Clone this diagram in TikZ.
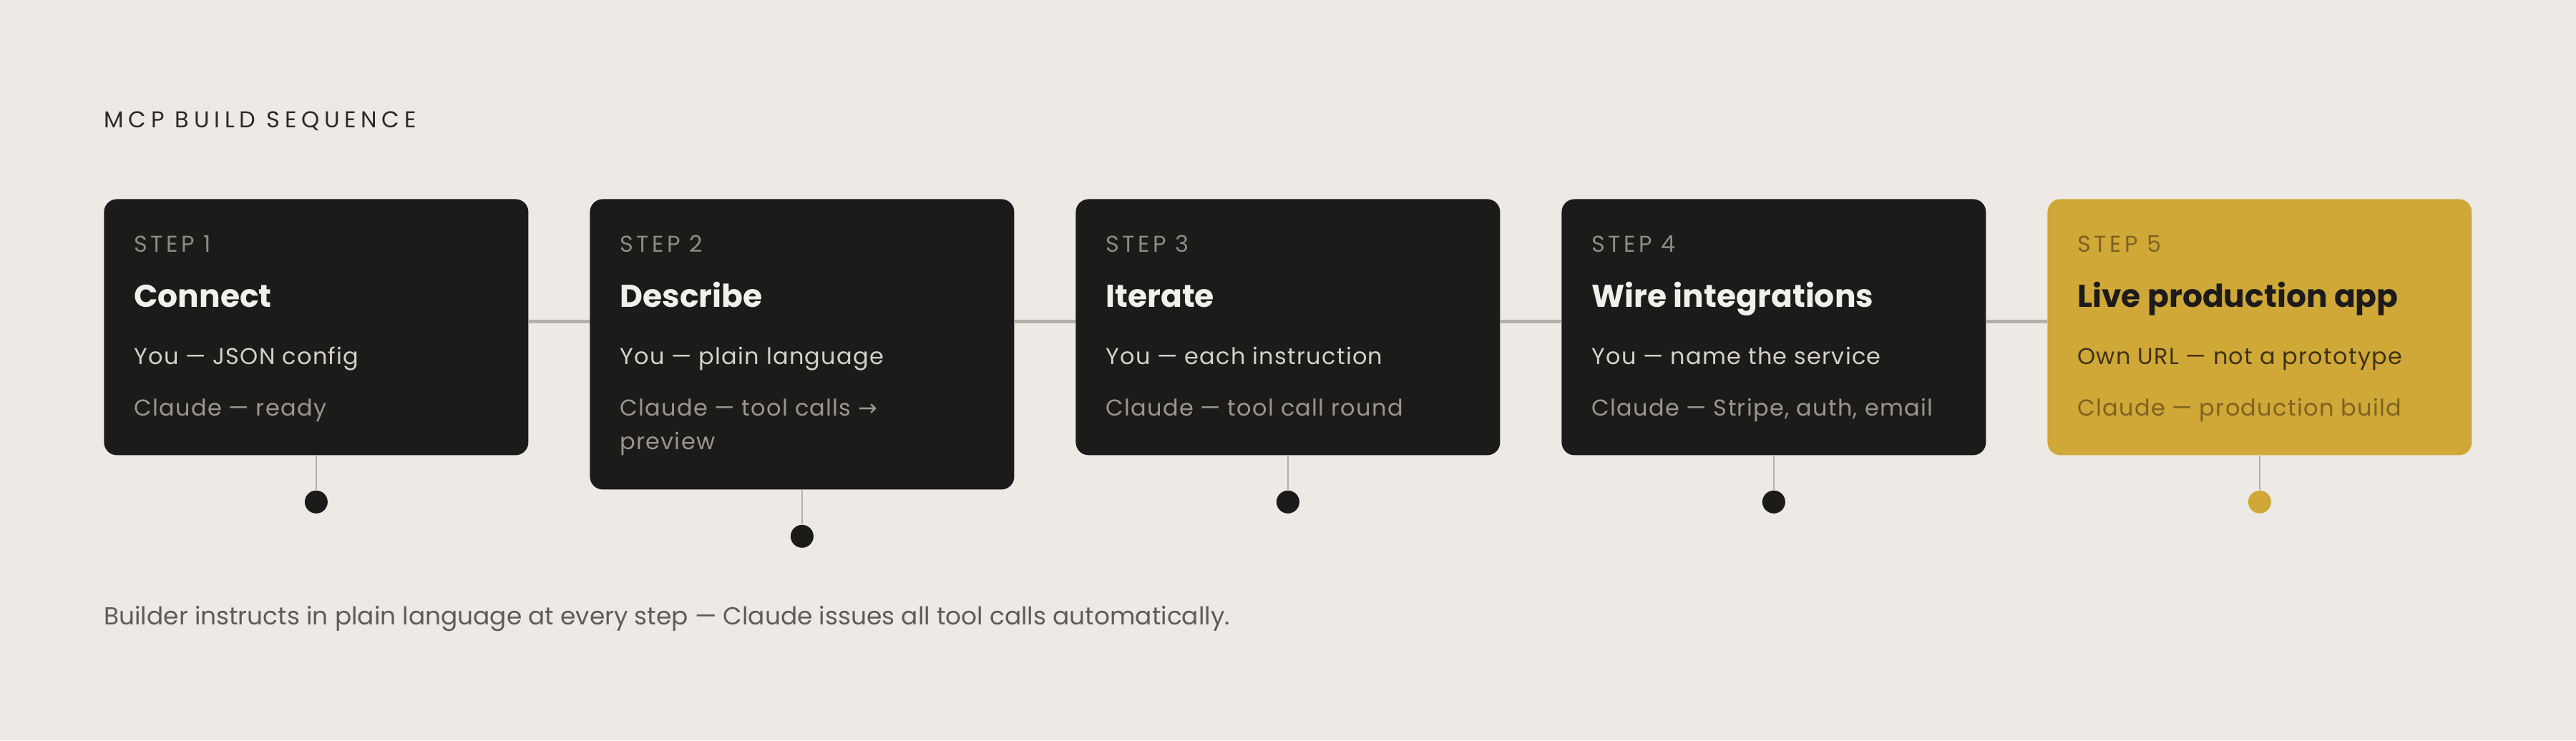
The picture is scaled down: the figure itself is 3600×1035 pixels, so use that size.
\documentclass[tikz,border=0pt]{standalone}
\usepackage{fontspec}
\setmainfont{Poppins}
\newfontfamily\spacedfont[LetterSpace=14]{Poppins}
\newfontfamily\headfont[LetterSpace=21]{Poppins}
\newfontfamily\bodyfont[LetterSpace=4]{Poppins}
\newfontfamily\arrowfont{DejaVu Sans}
\usetikzlibrary{calc}

\definecolor{paper}{HTML}{EDEAE5}
\definecolor{ink}{HTML}{1C1B19}
\definecolor{gold}{HTML}{CFA838}
\definecolor{spinegray}{HTML}{B3B0AA}
\definecolor{labelgray}{HTML}{8E8B85}
\definecolor{titlewhite}{HTML}{F2F0EC}
\definecolor{yougray}{HTML}{D4D1CB}
\definecolor{claudegray}{HTML}{9A968F}
\definecolor{goldlabel}{HTML}{7D6220}
\definecolor{goldyou}{HTML}{3F3210}
\definecolor{headgray}{HTML}{2B2A27}
\definecolor{footgray}{HTML}{5F5C57}

\tikzset{
    stepbox/.style={rounded corners=9pt, minimum width=296.5pt, anchor=north west, inner sep=0pt},
    steplabel/.style={anchor=base west, inner sep=0pt, font=\spacedfont\fontsize{16}{19}\selectfont},
    steptitle/.style={anchor=base west, inner sep=0pt, font=\bfseries\fontsize{22}{26}\selectfont},
    stepline/.style={anchor=base west, inner sep=0pt, font=\bodyfont\fontsize{16}{23.5}\selectfont},
    spine/.style={spinegray, line width=2.5pt},
    stem/.style={spinegray, line width=1pt},
    dot/.style={circle, minimum size=16pt, inner sep=0pt}
}

\begin{document}
\begin{tikzpicture}[x=0.5pt, y=-0.5pt]
        \fill[paper] (0, 0) rectangle (3600, 1035);
        \useasboundingbox (0, 0) rectangle (3600, 1035);

        % Heading
        \node[anchor=base west, inner sep=0pt, text=headgray, font=\headfont\fontsize{16}{19}\selectfont] (head) at (145, 178) {MCP BUILD SEQUENCE};

        % Steps 1 to 4
        \foreach \i/\x/\h/\name/\you/\claude in {
            1/145/358/Connect/{You — JSON config}/{Claude — ready},
            2/824/406/Describe/{You — plain language}/{\vtop{\hbox{Claude — tool calls {\arrowfont →}}\hbox{preview}}},
            3/1503/358/Iterate/{You — each instruction}/{Claude — tool call round},
            4/2182/358/Wire integrations/{You — name the service}/{Claude — Stripe, auth, email}} {
            \node[stepbox, fill=ink, minimum height=\h*0.5pt] (s\i) at (\x, 278) {};
            \node[steplabel, text=labelgray] (l\i) at ($(s\i.north west)+(42, 74)$) {STEP \i};
            \node[steptitle, text=titlewhite] (t\i) at ($(s\i.north west)+(42, 151)$) {\name};
            \node[stepline, text=yougray] (y\i) at ($(s\i.north west)+(42, 231)$) {\you};
            \node[stepline, text=claudegray] (c\i) at ($(s\i.north west)+(42, 303)$) {\claude};
            \node[dot, fill=ink] (d\i) at ($(s\i.south)+(0, 65)$) {};
            \draw[stem] (s\i) -- (d\i);
        }

        % Step 5
        \node[stepbox, fill=gold, minimum height=179pt] (s5) at (2861, 278) {};
        \node[steplabel, text=goldlabel] (l5) at ($(s5.north west)+(42, 74)$) {STEP 5};
        \node[steptitle, text=ink] (t5) at ($(s5.north west)+(42, 151)$) {Live production app};
        \node[stepline, text=goldyou] (y5) at ($(s5.north west)+(42, 231)$) {Own URL — not a prototype};
        \node[stepline, text=goldlabel] (c5) at ($(s5.north west)+(42, 303)$) {Claude — production build};
        \node[dot, fill=gold] (d5) at ($(s5.south)+(0, 65)$) {};
        \draw[stem] (s5) -- (d5);

        % Spine between boxes
        \foreach \i [evaluate=\i as \j using int(\i+1)] in {1, 2, 3, 4} {
            \draw[spine] ([yshift=-85.5pt]s\i.north east) -- ([yshift=-85.5pt]s\j.north west);
        }

        % Footer
        \node[anchor=base west, inner sep=0pt, text=footgray, font=\fontsize{17.2}{20}\selectfont] (foot) at (145, 873) {Builder instructs in plain language at every step — Claude issues all tool calls automatically.};
    \end{tikzpicture}
\end{document}
